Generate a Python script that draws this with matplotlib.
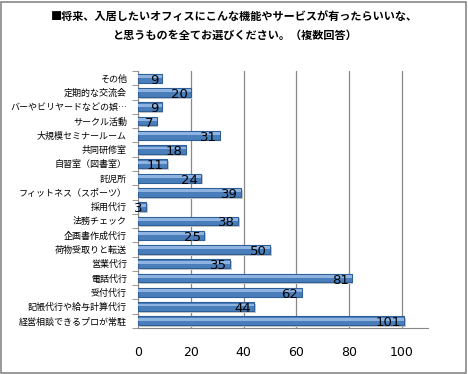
import matplotlib.pyplot as plt
import matplotlib.patches as mpatches
import numpy as np

plt.rcParams['font.family'] = ['Noto Sans CJK JP', 'DejaVu Sans']

# 回答項目（上から順）と回答数
kategorien = [
    "その他", "定期的な交流会", "バーやビリヤードなどの娯…", "サークル活動",
    "大規模セミナールーム", "共同研修室", "自習室（図書室）", "託児所",
    "フィットネス（スポーツ）", "採用代行", "法務チェック", "企画書作成代行",
    "荷物受取りと転送", "営業代行", "電話代行", "受付代行",
    "記帳代行や給与計算代行", "経営相談できるプロが常駐",
]
werte = [9, 20, 9, 7, 31, 18, 11, 24, 39, 3, 38, 25, 50, 35, 81, 62, 44, 101]
x_ticks = [0, 20, 40, 60, 80, 100]

titel = ("■将来、入居したいオフィスにこんな機能やサービスが有ったらいいな、\n"
         "と思うものを全てお選びください。（複数回答）")

fig = plt.figure(figsize=(4.68, 3.74), dpi=100)
ax = fig.add_axes([0.295, 0.123, 0.62, 0.687])

# Rahmen um die ganze Grafik
fig.patches.append(mpatches.Rectangle((0.003, 0.004), 0.992, 0.99, transform=fig.transFigure,
                                      fill=False, edgecolor='#888888', linewidth=1.2))

y = np.arange(len(kategorien))
# Schatten + Balken
ax.barh(y + 0.12, werte, height=0.62, left=0.6, color='#c8c8c8', zorder=2)
ax.barh(y, werte, height=0.62, color='#4a7ebb', edgecolor='#2e5f99', linewidth=0.8, zorder=3)
ax.barh(y - 0.11, werte, height=0.2, color='#8fb3e0', linewidth=0, zorder=4)

for yi, w in zip(y, werte):
    ax.text(w - 1.2, yi + 0.14, str(w), ha='right', va='center', fontsize=9.5,
            color='black', zorder=5, family='DejaVu Sans')

ax.set_yticks(y)
ax.set_yticklabels(kategorien, fontsize=6.5)
ax.set_ylim(len(kategorien) - 0.5, -0.5)
ax.set_xlim(0, 110)
ax.set_xticks(x_ticks)
ax.set_xticklabels([str(t) for t in x_ticks], fontsize=9, family='DejaVu Sans')
ax.tick_params(axis='x', length=0, pad=13)
ax.tick_params(axis='y', length=0, pad=8)
ax.set_yticks(np.arange(len(kategorien) + 1) - 0.5, minor=True)
ax.tick_params(axis='y', which='minor', length=4, color='#888888')
ax.grid(axis='x', color='#888888', linewidth=0.9, zorder=0)
ax.set_axisbelow(True)

for s in ['top', 'right']:
    ax.spines[s].set_visible(False)
ax.spines['left'].set_color('#888888')
ax.spines['bottom'].set_color('#888888')

fig.text(0.5, 0.93, titel, ha='center', va='center', fontsize=8, fontweight='bold',
         linespacing=1.5)

plt.savefig('out.png', dpi=100)
